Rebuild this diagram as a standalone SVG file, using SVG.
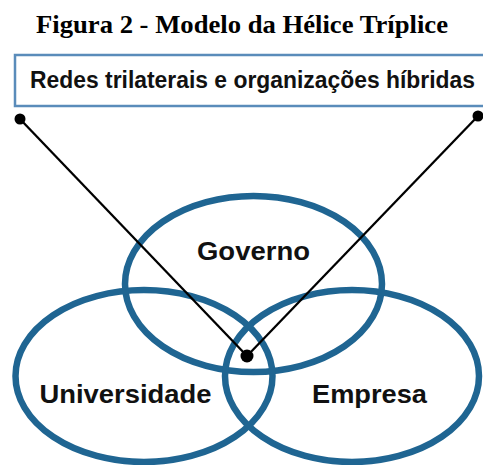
<svg xmlns="http://www.w3.org/2000/svg" width="483" height="465" viewBox="0 0 483 465">
<style>
.ring{fill:none;stroke:#1f6592;stroke-width:6.5}
.lbl{font-family:"Liberation Sans",Arial,sans-serif;font-weight:bold;fill:#111;font-size:26px}
.conn{stroke:#000;stroke-width:2.3;fill:none}
.dot{fill:#000}
</style>
<rect width="483" height="465" fill="#fff"/>
<text x="36" y="33" font-family="'Liberation Serif','Times New Roman',serif" font-weight="bold" font-size="26" fill="#000" textLength="412" lengthAdjust="spacingAndGlyphs">Figura 2 - Modelo da Hélice Tríplice</text>
<g id="redes">
<rect x="15" y="55" width="480" height="51" fill="#fff" stroke="#5a8cba" stroke-width="2.5"/>
<text x="30" y="88" font-family="'Liberation Sans',Arial,sans-serif" font-weight="bold" font-size="23" fill="#111" textLength="445" lengthAdjust="spacingAndGlyphs">Redes trilaterais e organizações híbridas</text>
</g>
<g id="governo">
<ellipse class="ring" cx="253.5" cy="284" rx="128.5" ry="88"/>
<text class="lbl" x="197" y="260" textLength="113" lengthAdjust="spacingAndGlyphs">Governo</text>
</g>
<g id="universidade">
<ellipse class="ring" cx="144" cy="376" rx="128.5" ry="86"/>
<text class="lbl" x="39.5" y="403" textLength="172" lengthAdjust="spacingAndGlyphs">Universidade</text>
</g>
<g id="empresa">
<ellipse class="ring" cx="352" cy="376" rx="127" ry="86"/>
<text class="lbl" x="312" y="403" textLength="115" lengthAdjust="spacingAndGlyphs">Empresa</text>
</g>
<g id="connectors">
<line class="conn" x1="20" y1="119" x2="247" y2="356"/>
<line class="conn" x1="478" y1="116" x2="247" y2="356"/>
<circle class="dot" cx="20" cy="119" r="5.5"/>
<circle class="dot" cx="478" cy="116" r="5.5"/>
<circle class="dot" cx="247" cy="356" r="6.5"/>
</g>
</svg>
